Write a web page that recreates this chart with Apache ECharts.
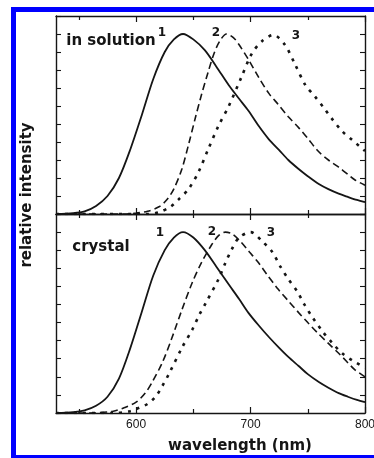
<!DOCTYPE html>
<html>
<head>
<meta charset="utf-8">
<script src="https://cdn.jsdelivr.net/npm/echarts@6/dist/echarts.min.js"></script>
<style>
  html, body { margin: 0; padding: 0; background: #fff; }
  #chart { width: 374px; height: 458px; }
</style>
</head>
<body>
<div id="chart"></div>
<script>
// wavelength range and ticks (nm)
var wlMin = 530, wlMax = 800;
var majorTicks = [600, 700, 800];
var minorTicks = [550, 650, 750];
var tickLabels = [600, 700, 800];

// emission spectra, [wavelength, relative intensity]
var solution1 = [[530,0],[545,0.005],[555,0.015],[565,0.045],[575,0.10],[585,0.20],[595,0.36],[605,0.55],
  [615,0.75],[625,0.90],[633,0.97],[641,1.0],[650,0.97],[660,0.91],[670,0.82],[681,0.715],[690,0.64],
  [698,0.575],[707,0.49],[716,0.415],[725,0.355],[733,0.30],[742,0.25],[750,0.21],[760,0.165],
  [768,0.138],[777,0.113],[785,0.095],[793,0.078],[800,0.066]];
var solution2 = [[530,0],[590,0],[600,0.005],[610,0.015],[620,0.04],[627,0.08],[633,0.14],[640,0.25],
  [646,0.39],[652,0.54],[657,0.66],[663,0.79],[668,0.89],[673,0.96],[679,1.0],[685,0.98],[690,0.94],
  [698,0.86],[707,0.76],[716,0.67],[724,0.61],[733,0.54],[742,0.48],[750,0.42],[759,0.35],[768,0.30],
  [777,0.26],[785,0.22],[791,0.19],[800,0.16]];
var solution3 = [[530,0],[610,0],[620,0.01],[630,0.04],[637,0.08],[646,0.14],[655,0.24],[663,0.36],
  [672,0.49],[681,0.60],[692,0.76],[701,0.89],[710,0.96],[720,0.995],[730,0.94],[739,0.83],[748,0.715],
  [756,0.655],[764,0.59],[771,0.53],[780,0.46],[789,0.41],[800,0.35]];
var crystal1 = [[530,0],[545,0.005],[555,0.015],[565,0.04],[575,0.09],[585,0.19],[595,0.36],[605,0.56],
  [615,0.76],[625,0.90],[633,0.97],[641,1.0],[650,0.97],[660,0.90],[670,0.81],[681,0.71],[690,0.63],
  [698,0.555],[707,0.485],[716,0.42],[725,0.36],[733,0.31],[742,0.26],[750,0.215],[760,0.17],
  [768,0.14],[777,0.11],[785,0.09],[793,0.072],[800,0.06]];
var crystal2 = [[530,0],[560,0],[580,0.01],[590,0.03],[600,0.06],[608,0.11],[614,0.17],[623,0.28],
  [631,0.41],[640,0.57],[649,0.72],[657,0.83],[666,0.93],[672,0.98],[678,1.0],[684,0.99],[691,0.95],
  [699,0.89],[707,0.83],[715,0.76],[724,0.685],[733,0.62],[742,0.555],[750,0.50],[759,0.44],
  [768,0.385],[777,0.33],[784,0.285],[791,0.24],[800,0.20]];
var crystal3 = [[530,0],[580,0],[595,0.01],[603,0.03],[610,0.05],[617,0.09],[623,0.15],[629,0.22],
  [640,0.36],[649,0.46],[655,0.54],[661,0.61],[672,0.74],[678,0.83],[684,0.91],[690,0.97],[700,1.0],
  [710,0.95],[719,0.89],[726,0.81],[733,0.74],[741,0.67],[747,0.60],[754,0.53],[763,0.45],[771,0.39],
  [780,0.33],[789,0.29],[800,0.25]];

var ink = '#151515';
var bold = function (size) { return 'bold ' + size + 'px "DejaVu Sans"'; };

function xAx(grid, pos, ticks, len, labels, line) {
  return {
    type: 'value', gridIndex: grid, position: pos, min: wlMin, max: wlMax,
    axisLine: { show: line, onZero: false, lineStyle: { color: ink, width: 1.4 } },
    axisTick: { show: true, inside: true, length: len, customValues: ticks, lineStyle: { color: ink, width: 1.2 } },
    axisLabel: { show: labels, customValues: tickLabels, margin: 6, color: ink, font: bold(12) },
    splitLine: { show: false }
  };
}
function yAx(grid, pos) {
  return {
    type: 'value', gridIndex: grid, position: pos, min: 0, max: 1.1, interval: 0.1,
    axisLine: { show: true, onZero: false, lineStyle: { color: ink, width: 1.4 } },
    axisTick: { show: true, inside: true, length: 5, lineStyle: { color: ink, width: 1.1 } },
    axisLabel: { show: false },
    splitLine: { show: false }
  };
}

var xAxes = [], yAxes = [];
[0, 1].forEach(function (g) {
  xAxes.push(xAx(g, 'bottom', majorTicks, 6, g === 1, true));
  xAxes.push(xAx(g, 'bottom', minorTicks, 4, false, false));
  xAxes.push(xAx(g, 'top', majorTicks, 6, false, true));
  xAxes.push(xAx(g, 'top', minorTicks, 4, false, false));
  yAxes.push(yAx(g, 'left'));
  yAxes.push(yAx(g, 'right'));
});

function curve(data, g, kind) {
  var ls = { color: ink, width: 1.8, type: 'solid' };
  if (kind === 'dash') { ls.width = 1.6; ls.type = [7, 4]; }
  if (kind === 'dot') { ls.width = 2.6; ls.type = [3, 6]; }
  return {
    type: 'line', data: data, xAxisIndex: g * 4, yAxisIndex: g * 2,
    showSymbol: false, smooth: 0.3, lineStyle: ls, silent: true, animation: false
  };
}

function txt(x, y, s, size, rot) {
  return {
    type: 'text', x: x, y: y, rotation: rot || 0, silent: true,
    style: { text: s, x: 0, y: 0, align: 'center', verticalAlign: 'middle', fill: ink, font: bold(size) }
  };
}

var chart = echarts.init(document.getElementById('chart'));
chart.setOption({
  backgroundColor: '#fff',
  animation: false,
  grid: [
    { left: 56, top: 16, width: 309, height: 198, outerBoundsMode: 'none', containLabel: false },
    { left: 56, top: 214, width: 309, height: 199, outerBoundsMode: 'none', containLabel: false }
  ],
  xAxis: xAxes,
  yAxis: yAxes,
  series: [
    curve(solution1, 0, 'solid'), curve(solution2, 0, 'dash'), curve(solution3, 0, 'dot'),
    curve(crystal1, 1, 'solid'), curve(crystal2, 1, 'dash'), curve(crystal3, 1, 'dot')
  ],
  graphic: [
    { type: 'rect', shape: { x: 11, y: 7, width: 363, height: 5 }, style: { fill: '#0000ff' }, silent: true },
    { type: 'rect', shape: { x: 11, y: 7, width: 5, height: 451 }, style: { fill: '#0000ff' }, silent: true },
    { type: 'rect', shape: { x: 11, y: 455, width: 363, height: 3 }, style: { fill: '#0000ff' }, silent: true },
    txt(111, 41, 'in solution', 15),
    txt(101, 247, 'crystal', 15),
    txt(162, 33, '1', 12), txt(216, 33, '2', 12), txt(296, 36, '3', 12),
    txt(160, 233, '1', 12), txt(212, 232, '2', 12), txt(271, 233, '3', 12),
    txt(240, 446, 'wavelength (nm)', 15),
    txt(27, 195, 'relative intensity', 15, Math.PI / 2)
  ]
});
</script>
</body>
</html>
